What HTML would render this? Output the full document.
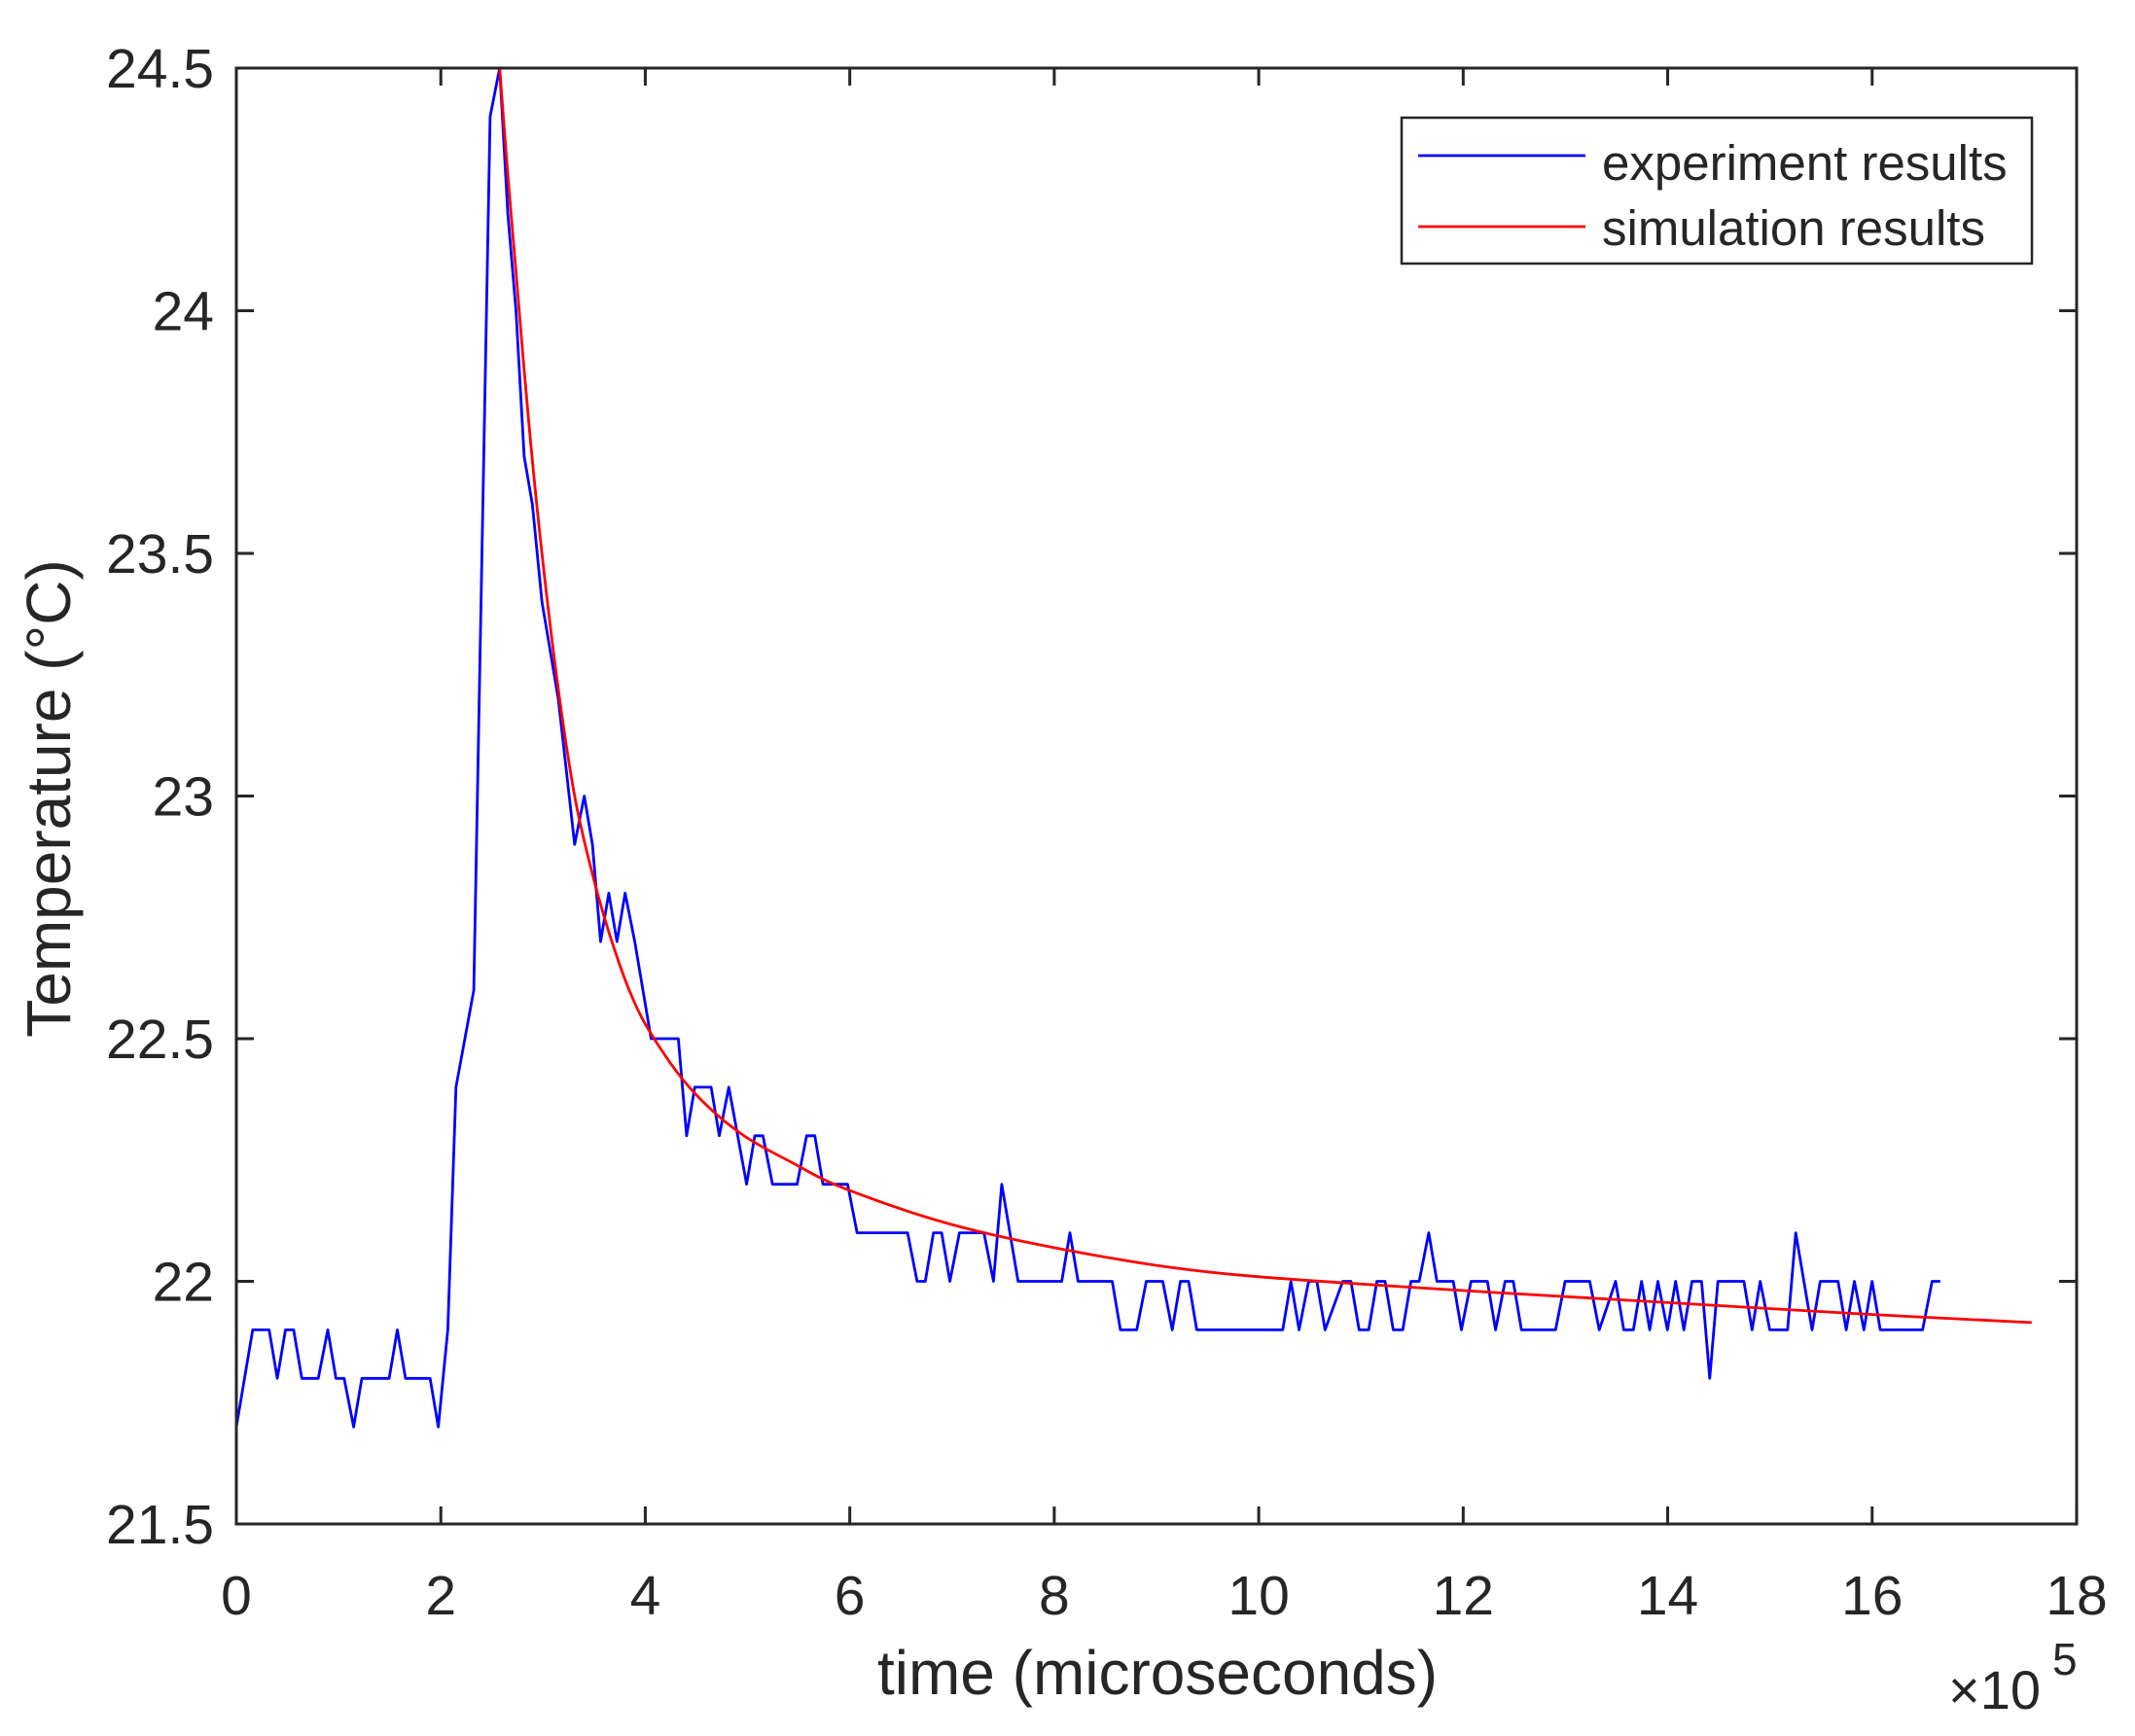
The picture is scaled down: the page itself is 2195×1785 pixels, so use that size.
<!DOCTYPE html>
<html><head><meta charset="utf-8"><style>
html,body{margin:0;padding:0;background:#fff}
svg{display:block}
text{font-family:"Liberation Sans",Arial,sans-serif;fill:#262626}
</style></head><body>
<svg id="s" width="2195" height="1785" viewBox="0 0 2195 1785" xmlns="http://www.w3.org/2000/svg">
<rect width="2195" height="1785" fill="#fff"/>
<g id="ticks" stroke="#262626" stroke-width="3"></g>
<g id="labels" font-size="57"></g>
<path id="blue" fill="none" stroke="#0000ff" stroke-width="2.8" stroke-linejoin="round"/>
<path id="red" fill="none" stroke="#ff0000" stroke-width="2.8"/>
<rect x="243" y="70" width="1892" height="1497" fill="none" stroke="#262626" stroke-width="3"/>
<text x="1190" y="1742" font-size="64" text-anchor="middle">time (microseconds)</text>
<text transform="translate(72,821) rotate(-90)" font-size="64" text-anchor="middle">Temperature (°C)</text>
<text x="2003" y="1757" font-size="56">×10</text>
<text x="2110" y="1722" font-size="46">5</text>
<rect x="1441" y="121" width="648" height="150" fill="#fff" stroke="#262626" stroke-width="2.5"/>
<line x1="1458" y1="160" x2="1630" y2="160" stroke="#0000ff" stroke-width="2.8"/>
<line x1="1458" y1="233" x2="1630" y2="233" stroke="#ff0000" stroke-width="2.8"/>
<text x="1647" y="185" font-size="51">experiment results</text>
<text x="1647" y="252" font-size="51">simulation results</text>
</svg>
<script>
const X=t=>243+t*105.11, Y=T=>1567-(T-21.5)*499;
const px=x=>243+(x-173)*1.4026;
let tk=document.getElementById('ticks'),lb=document.getElementById('labels'),h='',l='';
for(let i=0;i<=18;i+=2){let x=X(i);h+=`<line x1="${x}" y1="1567" x2="${x}" y2="1549"/><line x1="${x}" y1="70" x2="${x}" y2="88"/>`;l+=`<text x="${x}" y="1660" text-anchor="middle">${i}</text>`;}
const yl=['21.5','22','22.5','23','23.5','24','24.5'];
yl.forEach(v=>{let y=Y(+v);h+=`<line x1="243" y1="${y}" x2="261" y2="${y}"/><line x1="2135" y1="${y}" x2="2117" y2="${y}"/>`;l+=`<text x="220" y="${y+20}" text-anchor="end">${v}</text>`;});
tk.innerHTML=h;lb.innerHTML=l;
const b=[[173,21.7],[185,21.9],[197,21.9],[203,21.8],[209,21.9],[215,21.9],[221,21.8],[233,21.8],[240,21.9],[246,21.8],[252,21.8],[259,21.7],[265,21.8],[285,21.8],[291,21.9],[297,21.8],[315,21.8],[321,21.7],[328,21.9],[334,22.4],[347,22.6],[359,24.4],[366,24.5],[372,24.2],[378,24.0],[384,23.7],[390,23.6],[397,23.4],[403,23.3],[409,23.2],[421,22.9],[428,23.0],[434,22.9],[440,22.7],[446,22.8],[452,22.7],[458,22.8],[465,22.7],[477,22.5],[497,22.5],[503,22.3],[509,22.4],[521,22.4],[527,22.3],[534,22.4],[547,22.2],[553,22.3],[559,22.3],[566,22.2],[584,22.2],[591,22.3],[597,22.3],[603,22.2],[621,22.2],[628,22.1],[665,22.1],[672,22.0],[678,22.0],[684,22.1],[690,22.1],[696,22.0],[703,22.1],[721,22.1],[728,22.0],[734,22.2],[740,22.1],[746,22.0],[778,22.0],[784,22.1],[790,22.0],[815,22.0],[821,21.9],[833,21.9],[840,22.0],[852,22.0],[859,21.9],[865,22.0],[871,22.0],[877,21.9],[940,21.9],[946,22.0],[952,21.9],[959,22.0],[965,22.0],[971,21.9],[984,22.0],[990,22.0],[996,21.9],[1003,21.9],[1009,22.0],[1015,22.0],[1021,21.9],[1028,21.9],[1034,22.0],[1040,22.0],[1047,22.1],[1053,22.0],[1065,22.0],[1071,21.9],[1078,22.0],[1090,22.0],[1096,21.9],[1103,22.0],[1109,22.0],[1115,21.9],[1140,21.9],[1147,22.0],[1165,22.0],[1172,21.9],[1184,22.0],[1190,21.9],[1197,21.9],[1203,22.0],[1209,21.9],[1215,22.0],[1222,21.9],[1228,22.0],[1234,21.9],[1240,22.0],[1247,22.0],[1253,21.8],[1259,22.0],[1278,22.0],[1284,21.9],[1290,22.0],[1297,21.9],[1310,21.9],[1316,22.1],[1322,22.0],[1328,21.9],[1334,22.0],[1347,22.0],[1353,21.9],[1359,22.0],[1366,21.9],[1372,22.0],[1378,21.9],[1409,21.9],[1416,22.0],[1422,22.0]];
document.getElementById('blue').setAttribute('d','M'+b.map(p=>px(p[0]).toFixed(1)+','+Y(p[1]).toFixed(1)).join('L'));
const r=[[366,24.5],[372,24.28],[378,24.08],[387,23.78],[397,23.5],[409,23.22],[421,23.0],[433,22.85],[446,22.72],[461,22.6],[477,22.51],[505,22.4],[540,22.31],[580,22.245],[620,22.19],[700,22.115],[800,22.055],[900,22.015],[1050,21.985],[1200,21.96],[1350,21.935],[1489,21.915]];
const P=r.map(p=>[px(p[0]),Y(p[1])]);
let d='M'+P[0].join(',');
for(let i=0;i<P.length-1;i++){const p0=P[Math.max(0,i-1)],p1=P[i],p2=P[i+1],p3=P[Math.min(P.length-1,i+2)];
const c1=[p1[0]+(p2[0]-p0[0])/6,p1[1]+(p2[1]-p0[1])/6],c2=[p2[0]-(p3[0]-p1[0])/6,p2[1]-(p3[1]-p1[1])/6];
d+=`C${c1[0].toFixed(1)},${c1[1].toFixed(1)} ${c2[0].toFixed(1)},${c2[1].toFixed(1)} ${p2[0].toFixed(1)},${p2[1].toFixed(1)}`;}
document.getElementById('red').setAttribute('d',d);
</script>
</body></html>
